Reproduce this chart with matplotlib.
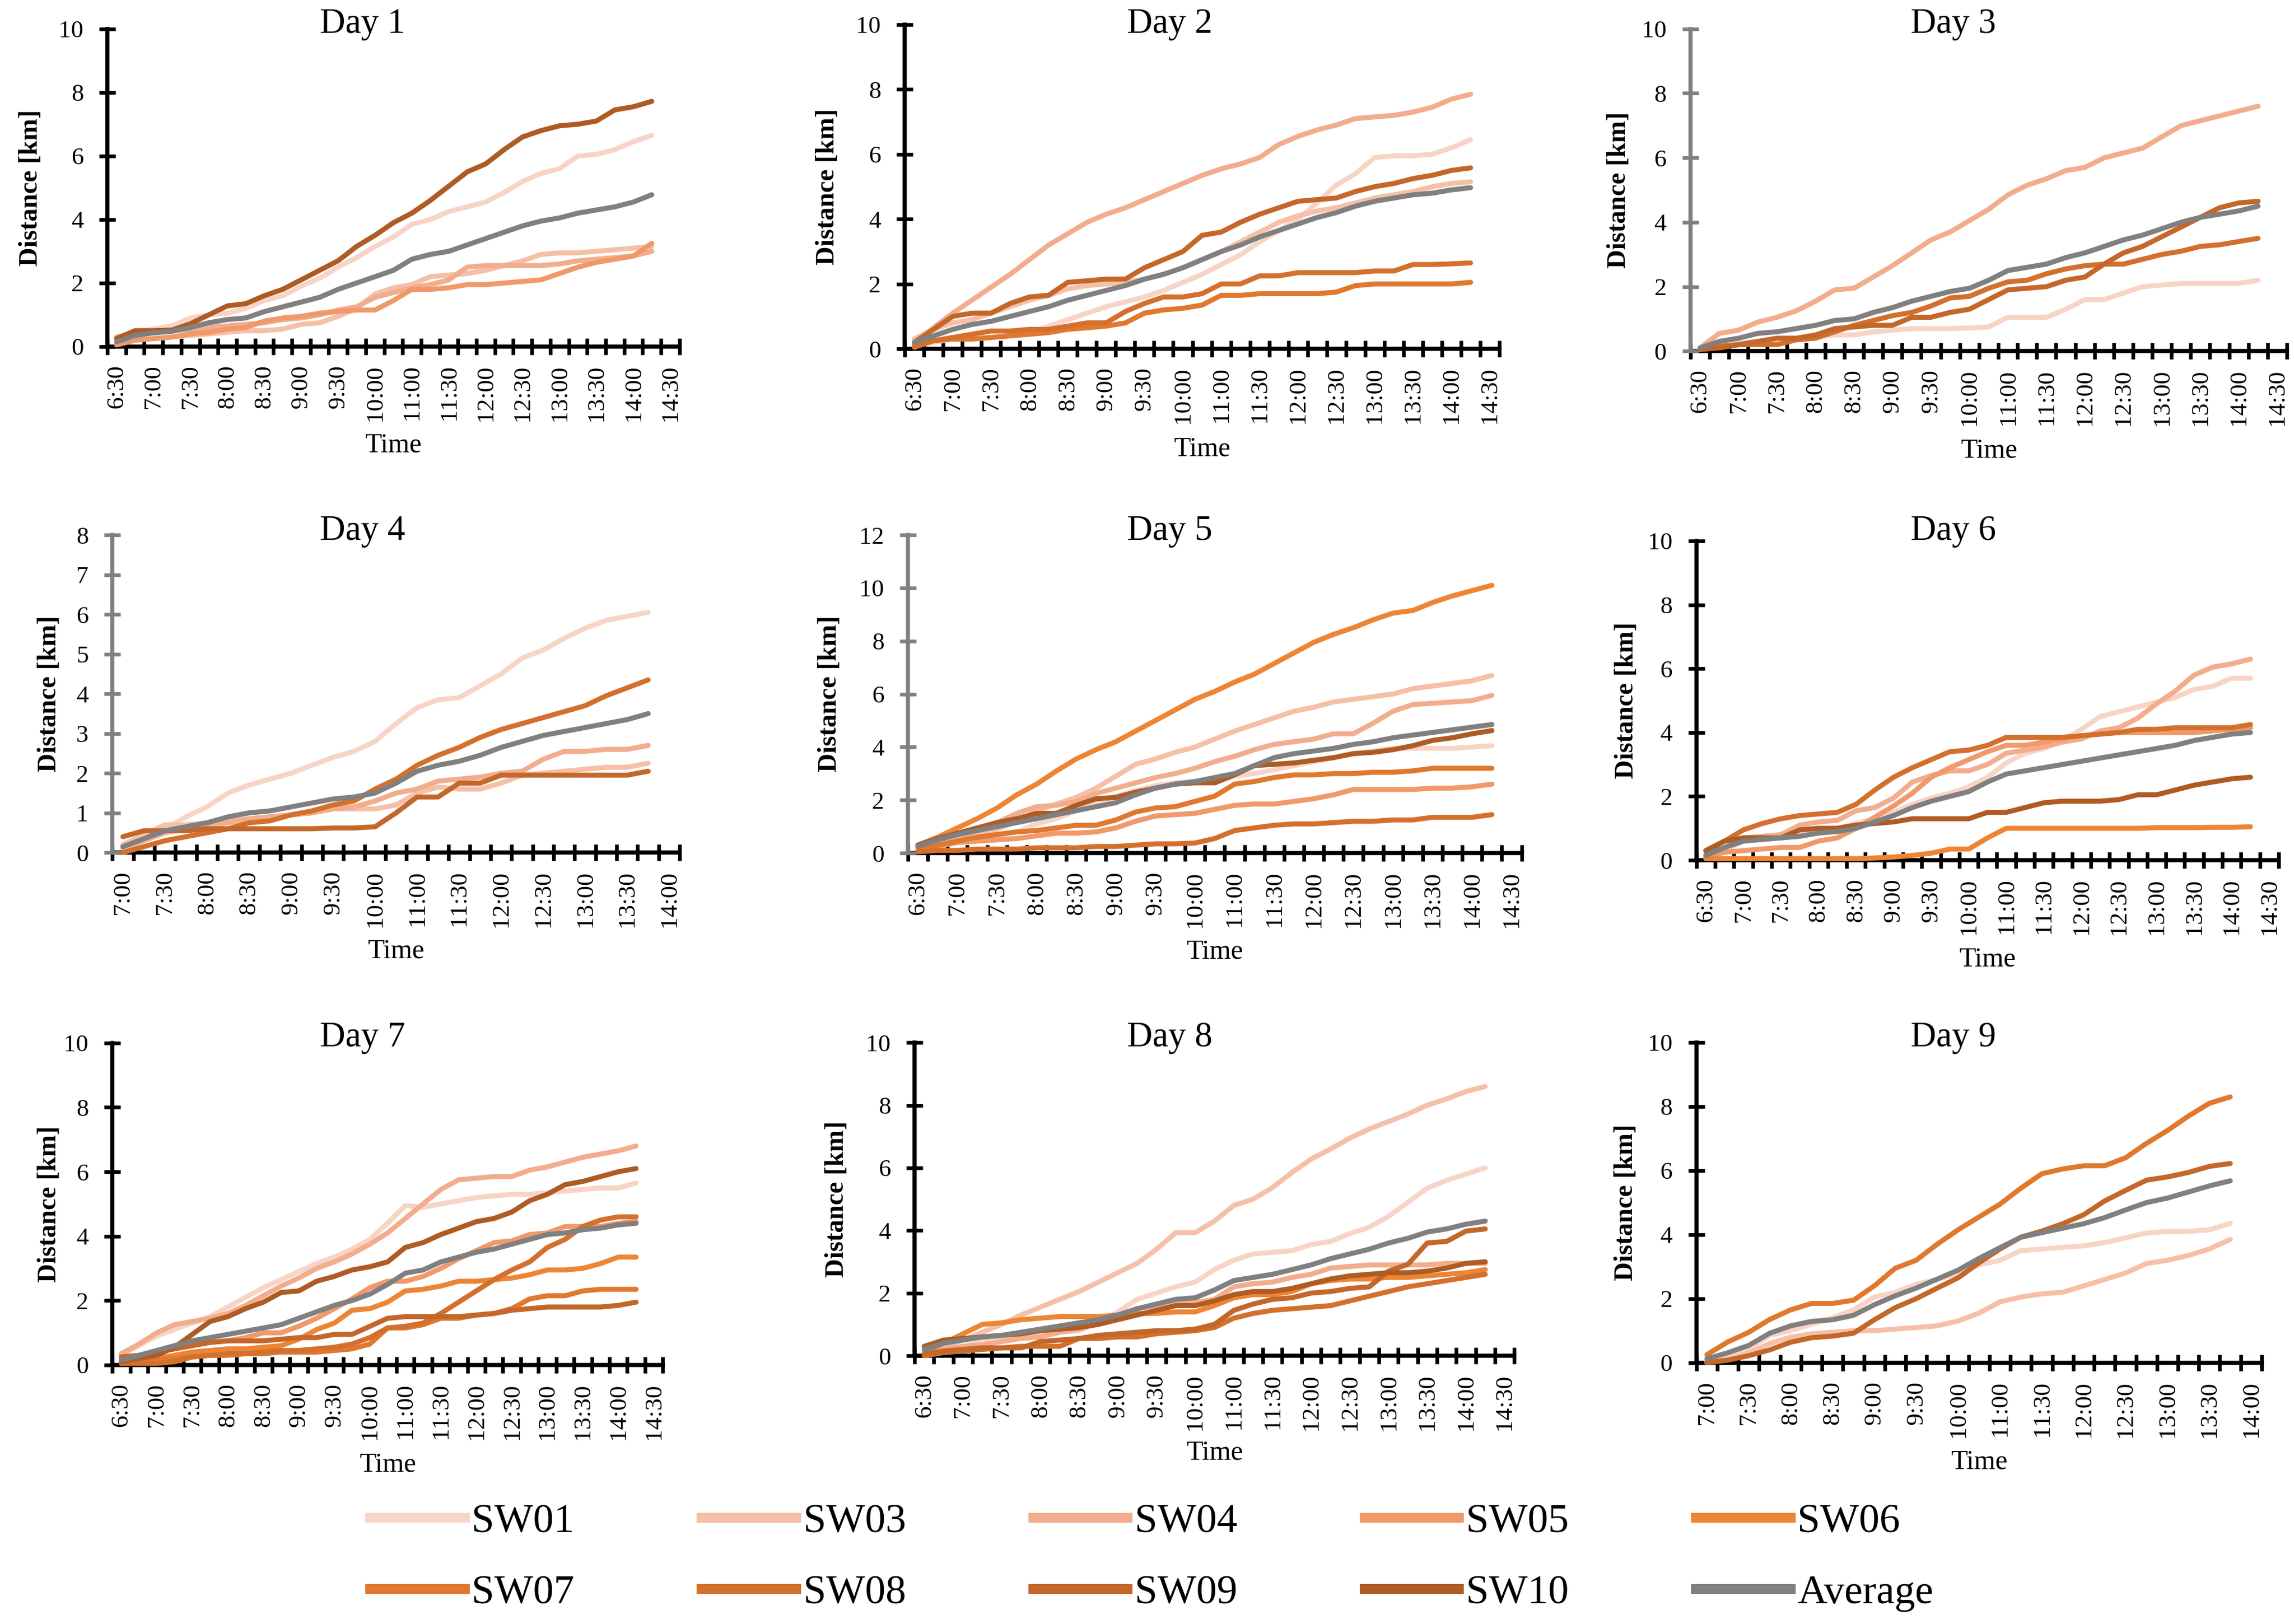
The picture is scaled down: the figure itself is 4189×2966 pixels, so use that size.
import numpy as np
import matplotlib
matplotlib.use('Agg')
import matplotlib.pyplot as plt
from matplotlib.lines import Line2D

plt.rcParams['font.family'] = ['Liberation Serif', 'DejaVu Serif']

# series and colours
series_names = ['SW01', 'SW03', 'SW04', 'SW05', 'SW06', 'SW07', 'SW08', 'SW09', 'SW10', 'Average']
series_colors = {
    'SW01': '#F8D4C6', 'SW03': '#F5C0A7', 'SW04': '#F2AD8D', 'SW05': '#F0996A',
    'SW06': '#EE8534', 'SW07': '#E0782E', 'SW08': '#D4702D', 'SW09': '#C4672A',
    'SW10': '#AE5C24', 'Average': '#808080',
}

# x tick labels (every second 15-min category is labelled)
labels_630 = ['6:30', '7:00', '7:30', '8:00', '8:30', '9:00', '9:30', '10:00', '11:00',
              '11:30', '12:00', '12:30', '13:00', '13:30', '14:00', '14:30']
labels_700 = ['7:00', '7:30', '8:00', '8:30', '9:00', '9:30', '10:00', '11:00',
              '11:30', '12:00', '12:30', '13:00', '13:30', '14:00']

# cumulative distance [km] per day
day1 = {
    'SW01': [0.3, 0.45, 0.55, 0.65, 0.9, 1.0, 1.05, 1.2, 1.45, 1.6, 1.9, 2.15, 2.5, 2.8, 3.15, 3.45, 3.85, 4.0, 4.25, 4.4, 4.55, 4.85, 5.2, 5.45, 5.6, 6.0, 6.05, 6.2, 6.45, 6.65],
    'SW03': [0.1, 0.2, 0.25, 0.3, 0.35, 0.4, 0.45, 0.5, 0.5, 0.55, 0.7, 0.75, 0.95, 1.2, 1.65, 1.85, 1.95, 2.2, 2.25, 2.3, 2.4, 2.55, 2.7, 2.9, 2.95, 2.95, 3.0, 3.05, 3.1, 3.15],
    'SW04': [0.3, 0.4, 0.45, 0.5, 0.55, 0.6, 0.65, 0.7, 0.75, 0.85, 0.9, 1.0, 1.15, 1.25, 1.55, 1.7, 1.85, 1.95, 2.1, 2.5, 2.55, 2.55, 2.55, 2.55, 2.6, 2.7, 2.75, 2.8, 2.85, 3.0],
    'SW05': [0.05, 0.2, 0.25, 0.3, 0.4, 0.45, 0.55, 0.6, 0.8, 0.9, 0.95, 1.05, 1.1, 1.15, 1.15, 1.45, 1.8, 1.8, 1.85, 1.95, 1.95, 2.0, 2.05, 2.1, 2.3, 2.5, 2.65, 2.75, 2.85, 3.25],
    'SW10': [0.25, 0.5, 0.5, 0.52, 0.72, 1.0, 1.28, 1.35, 1.6, 1.8, 2.1, 2.4, 2.7, 3.15, 3.5, 3.9, 4.2, 4.6, 5.05, 5.5, 5.75, 6.2, 6.6, 6.8, 6.95, 7.0, 7.1, 7.45, 7.55, 7.72],
    'Average': [0.15, 0.35, 0.43, 0.48, 0.6, 0.75, 0.85, 0.9, 1.1, 1.25, 1.4, 1.55, 1.8, 2.0, 2.2, 2.4, 2.75, 2.9, 3.0, 3.2, 3.4, 3.6, 3.8, 3.95, 4.05, 4.2, 4.3, 4.4, 4.55, 4.78],
}
day2 = {
    'SW01': [0.1, 0.2, 0.3, 0.35, 0.35, 0.4, 0.5, 0.7, 0.9, 1.1, 1.3, 1.45, 1.6, 1.8, 2.05, 2.3, 2.6, 2.9, 3.3, 3.65, 4.0, 4.5, 5.05, 5.4, 5.9, 5.95, 5.95, 6.0, 6.2, 6.45],
    'SW03': [0.3, 0.6, 0.8, 0.9, 1.1, 1.3, 1.5, 1.65, 1.85, 1.95, 2.0, 2.05, 2.15, 2.3, 2.5, 2.75, 3.0, 3.3, 3.6, 3.9, 4.1, 4.25, 4.35, 4.5, 4.65, 4.75, 4.85, 5.0, 5.1, 5.15],
    'SW04': [0.2, 0.65, 1.1, 1.5, 1.9, 2.3, 2.75, 3.2, 3.55, 3.9, 4.15, 4.35, 4.6, 4.85, 5.1, 5.35, 5.55, 5.7, 5.9, 6.3, 6.55, 6.75, 6.9, 7.1, 7.15, 7.2, 7.3, 7.45, 7.7, 7.85],
    'SW07': [0.05, 0.25, 0.3, 0.3, 0.35, 0.4, 0.45, 0.5, 0.6, 0.65, 0.7, 0.8, 1.1, 1.2, 1.25, 1.35, 1.65, 1.65, 1.7, 1.7, 1.7, 1.7, 1.75, 1.95, 2.0, 2.0, 2.0, 2.0, 2.0, 2.05],
    'SW08': [0.1, 0.25, 0.35, 0.45, 0.55, 0.55, 0.6, 0.6, 0.7, 0.8, 0.8, 1.15, 1.4, 1.6, 1.6, 1.7, 2.0, 2.0, 2.25, 2.25, 2.35, 2.35, 2.35, 2.35, 2.4, 2.4, 2.6, 2.6, 2.62, 2.65],
    'SW09': [0.2, 0.6, 1.0, 1.1, 1.1, 1.4, 1.6, 1.65, 2.05, 2.1, 2.15, 2.15, 2.5, 2.75, 3.0, 3.5, 3.6, 3.9, 4.15, 4.35, 4.55, 4.6, 4.65, 4.85, 5.0, 5.1, 5.25, 5.35, 5.5, 5.58],
    'Average': [0.2, 0.4, 0.6, 0.75, 0.85, 1.0, 1.15, 1.3, 1.5, 1.65, 1.8, 1.95, 2.15, 2.3, 2.5, 2.75, 3.0, 3.2, 3.45, 3.65, 3.85, 4.05, 4.2, 4.4, 4.55, 4.65, 4.75, 4.8, 4.9, 4.97],
}
day3 = {
    'SW01': [0.05, 0.2, 0.25, 0.3, 0.35, 0.4, 0.45, 0.5, 0.5, 0.6, 0.65, 0.7, 0.7, 0.7, 0.72, 0.75, 1.05, 1.05, 1.05, 1.3, 1.6, 1.6, 1.8, 2.0, 2.05, 2.1, 2.1, 2.1, 2.1, 2.2],
    'SW04': [0.1, 0.55, 0.65, 0.9, 1.05, 1.25, 1.55, 1.9, 1.95, 2.3, 2.65, 3.05, 3.45, 3.7, 4.05, 4.4, 4.85, 5.15, 5.35, 5.6, 5.7, 6.0, 6.15, 6.3, 6.65, 7.0, 7.15, 7.3, 7.45, 7.6],
    'SW08': [0.05, 0.15, 0.2, 0.2, 0.2, 0.35, 0.4, 0.6, 0.8, 0.95, 1.1, 1.2, 1.4, 1.65, 1.7, 1.95, 2.15, 2.2, 2.4, 2.55, 2.65, 2.7, 2.7, 2.85, 3.0, 3.1, 3.25, 3.3, 3.4, 3.5],
    'SW09': [0.05, 0.1, 0.2, 0.3, 0.4, 0.4, 0.5, 0.7, 0.75, 0.8, 0.8, 1.05, 1.05, 1.2, 1.3, 1.6, 1.9, 1.95, 2.0, 2.2, 2.3, 2.7, 3.05, 3.25, 3.55, 3.85, 4.15, 4.45, 4.6, 4.65],
    'Average': [0.1, 0.3, 0.4, 0.55, 0.6, 0.7, 0.8, 0.95, 1.0, 1.2, 1.35, 1.55, 1.7, 1.85, 1.95, 2.2, 2.5, 2.6, 2.7, 2.9, 3.05, 3.25, 3.45, 3.6, 3.8, 4.0, 4.15, 4.25, 4.35, 4.5],
}
day4 = {
    'SW01': [0.2, 0.4, 0.6, 0.9, 1.15, 1.5, 1.7, 1.85, 2.0, 2.2, 2.4, 2.55, 2.8, 3.25, 3.65, 3.85, 3.9, 4.2, 4.5, 4.9, 5.1, 5.4, 5.65, 5.85, 5.95, 6.05],
    'SW03': [0.2, 0.45, 0.7, 0.7, 0.75, 0.8, 0.85, 0.9, 0.95, 1.0, 1.1, 1.1, 1.1, 1.2, 1.5, 1.65, 1.6, 1.6, 1.75, 1.95, 2.0, 2.05, 2.1, 2.15, 2.15, 2.25],
    'SW04': [0.1, 0.3, 0.5, 0.6, 0.65, 0.75, 0.85, 0.9, 0.95, 1.0, 1.1, 1.15, 1.3, 1.5, 1.6, 1.8, 1.85, 1.9, 2.0, 2.05, 2.35, 2.55, 2.55, 2.6, 2.6, 2.7],
    'SW08': [0.0, 0.15, 0.3, 0.4, 0.5, 0.6, 0.75, 0.8, 0.95, 1.05, 1.2, 1.3, 1.6, 1.85, 2.2, 2.45, 2.65, 2.9, 3.1, 3.25, 3.4, 3.55, 3.7, 3.95, 4.15, 4.35],
    'SW09': [0.4, 0.55, 0.55, 0.55, 0.6, 0.6, 0.6, 0.6, 0.6, 0.6, 0.62, 0.62, 0.65, 1.0, 1.4, 1.4, 1.75, 1.75, 1.95, 1.95, 1.95, 1.95, 1.95, 1.95, 1.95, 2.05],
    'Average': [0.15, 0.35, 0.55, 0.65, 0.75, 0.9, 1.0, 1.05, 1.15, 1.25, 1.35, 1.4, 1.5, 1.75, 2.05, 2.2, 2.3, 2.45, 2.65, 2.8, 2.95, 3.05, 3.15, 3.25, 3.35, 3.5],
}
day5 = {
    'SW01': [0.2, 0.3, 0.4, 0.5, 0.65, 0.8, 1.1, 1.3, 1.6, 1.85, 2.15, 2.35, 2.55, 2.65, 2.7, 2.75, 2.9, 3.0, 3.15, 3.3, 3.45, 3.6, 3.75, 3.85, 3.95, 3.95, 3.95, 3.95, 4.0, 4.05],
    'SW03': [0.25, 0.45, 0.55, 0.7, 0.9, 1.2, 1.6, 1.85, 2.1, 2.45, 2.9, 3.35, 3.55, 3.8, 4.0, 4.3, 4.6, 4.85, 5.1, 5.35, 5.5, 5.7, 5.8, 5.9, 6.0, 6.2, 6.3, 6.4, 6.5, 6.7],
    'SW04': [0.2, 0.4, 0.6, 0.85, 1.15, 1.5, 1.75, 1.8, 1.95, 2.25, 2.45, 2.65, 2.85, 3.0, 3.2, 3.45, 3.65, 3.9, 4.1, 4.2, 4.3, 4.5, 4.5, 4.9, 5.35, 5.6, 5.65, 5.7, 5.75, 5.95],
    'SW05': [0.1, 0.25, 0.4, 0.45, 0.5, 0.55, 0.65, 0.75, 0.75, 0.8, 0.95, 1.2, 1.4, 1.45, 1.5, 1.65, 1.8, 1.85, 1.85, 1.95, 2.05, 2.2, 2.4, 2.4, 2.4, 2.4, 2.45, 2.45, 2.5, 2.6],
    'SW06': [0.3, 0.6, 0.95, 1.3, 1.7, 2.2, 2.6, 3.1, 3.55, 3.9, 4.2, 4.6, 5.0, 5.4, 5.8, 6.1, 6.45, 6.75, 7.15, 7.55, 7.95, 8.25, 8.5, 8.8, 9.05, 9.15, 9.45, 9.7, 9.9, 10.1],
    'SW07': [0.1, 0.3, 0.45, 0.6, 0.7, 0.8, 0.85, 0.95, 1.05, 1.05, 1.25, 1.55, 1.7, 1.75, 1.95, 2.15, 2.6, 2.7, 2.85, 2.95, 2.95, 3.0, 3.0, 3.05, 3.05, 3.1, 3.2, 3.2, 3.2, 3.2],
    'SW08': [0.05, 0.1, 0.1, 0.15, 0.15, 0.15, 0.2, 0.2, 0.2, 0.25, 0.25, 0.3, 0.35, 0.35, 0.38, 0.55, 0.85, 0.95, 1.05, 1.1, 1.1, 1.15, 1.2, 1.2, 1.25, 1.25, 1.35, 1.35, 1.35, 1.45],
    'SW10': [0.3, 0.55, 0.75, 0.95, 1.15, 1.3, 1.5, 1.5, 1.8, 2.05, 2.1, 2.3, 2.45, 2.6, 2.65, 2.65, 2.95, 3.3, 3.35, 3.4, 3.5, 3.6, 3.75, 3.8, 3.9, 4.05, 4.25, 4.35, 4.5, 4.62],
    'Average': [0.25, 0.5, 0.7, 0.85, 1.0, 1.15, 1.3, 1.45, 1.6, 1.75, 1.9, 2.2, 2.45, 2.6, 2.7, 2.85, 3.0, 3.3, 3.6, 3.75, 3.85, 3.95, 4.1, 4.2, 4.35, 4.45, 4.55, 4.65, 4.75, 4.85],
}
day6 = {
    'SW01': [0.1, 0.3, 0.6, 0.7, 0.7, 0.8, 0.9, 1.0, 1.15, 1.3, 1.5, 1.75, 1.95, 2.1, 2.3, 2.6, 3.05, 3.35, 3.5, 3.75, 4.1, 4.5, 4.65, 4.8, 4.95, 5.1, 5.35, 5.45, 5.7, 5.7],
    'SW04': [0.2, 0.4, 0.7, 0.75, 0.8, 1.1, 1.2, 1.25, 1.55, 1.65, 1.95, 2.45, 2.65, 2.8, 2.8, 3.0, 3.35, 3.45, 3.55, 3.7, 3.8, 4.05, 4.15, 4.45, 4.9, 5.3, 5.8, 6.05, 6.15, 6.3],
    'SW05': [0.1, 0.25, 0.3, 0.35, 0.4, 0.4, 0.6, 0.7, 1.0, 1.35, 1.7, 2.1, 2.6, 2.9, 3.15, 3.4, 3.6, 3.6, 3.7, 3.8, 3.9, 3.95, 4.0, 4.0, 4.0, 4.0, 4.0, 4.05, 4.1, 4.15],
    'SW06': [0.05, 0.05, 0.05, 0.05, 0.05, 0.05, 0.05, 0.05, 0.05, 0.07, 0.1, 0.15, 0.22, 0.35, 0.35, 0.7, 1.0, 1.0, 1.0, 1.0, 1.0, 1.0, 1.0, 1.0, 1.02, 1.02, 1.02, 1.03, 1.03, 1.05],
    'SW08': [0.3, 0.6, 0.95, 1.15, 1.3, 1.4, 1.45, 1.5, 1.75, 2.2, 2.6, 2.9, 3.15, 3.4, 3.45, 3.6, 3.85, 3.85, 3.85, 3.85, 3.9, 3.95, 4.0, 4.1, 4.1, 4.15, 4.15, 4.15, 4.15, 4.25],
    'SW10': [0.3, 0.6, 0.7, 0.7, 0.7, 0.95, 1.0, 1.0, 1.1, 1.15, 1.2, 1.3, 1.3, 1.3, 1.3, 1.5, 1.5, 1.65, 1.8, 1.85, 1.85, 1.85, 1.9, 2.05, 2.05, 2.2, 2.35, 2.45, 2.55, 2.6],
    'Average': [0.15, 0.4, 0.6, 0.65, 0.7, 0.75, 0.85, 0.9, 1.0, 1.2, 1.4, 1.65, 1.85, 2.0, 2.15, 2.45, 2.7, 2.8, 2.9, 3.0, 3.1, 3.2, 3.3, 3.4, 3.5, 3.6, 3.75, 3.85, 3.95, 4.0],
}
day7 = {
    'SW01': [0.3, 0.6, 0.9, 1.1, 1.3, 1.5, 1.8, 2.1, 2.4, 2.65, 2.9, 3.15, 3.35, 3.6, 3.9, 4.4, 4.95, 4.9, 5.0, 5.1, 5.2, 5.25, 5.3, 5.3, 5.35, 5.4, 5.45, 5.5, 5.5, 5.65],
    'SW04': [0.35, 0.65, 1.0, 1.25, 1.35, 1.45, 1.6, 1.85, 2.15, 2.45, 2.7, 3.0, 3.2, 3.45, 3.75, 4.1, 4.55, 5.0, 5.45, 5.75, 5.8, 5.85, 5.85, 6.05, 6.15, 6.3, 6.45, 6.55, 6.65, 6.8],
    'SW05': [0.15, 0.3, 0.4, 0.5, 0.6, 0.7, 0.75, 0.85, 1.0, 1.0, 1.2, 1.45, 1.75, 2.05, 2.4, 2.6, 2.6, 2.75, 3.0, 3.3, 3.55, 3.8, 3.85, 4.05, 4.1, 4.3, 4.3, 4.3, 4.4, 4.45],
    'SW06': [0.05, 0.15, 0.2, 0.3, 0.4, 0.45, 0.5, 0.5, 0.55, 0.6, 0.8, 1.1, 1.3, 1.7, 1.75, 1.95, 2.3, 2.35, 2.45, 2.6, 2.6, 2.65, 2.7, 2.8, 2.95, 2.95, 3.0, 3.15, 3.35, 3.35],
    'SW07': [0.05, 0.1, 0.15, 0.2, 0.25, 0.3, 0.3, 0.35, 0.35, 0.4, 0.4, 0.4, 0.45, 0.5, 0.65, 1.15, 1.15, 1.25, 1.45, 1.45, 1.55, 1.6, 1.75, 2.05, 2.15, 2.15, 2.3, 2.35, 2.35, 2.35],
    'SW08': [0.05, 0.05, 0.05, 0.1, 0.25, 0.3, 0.35, 0.35, 0.4, 0.45, 0.45, 0.5, 0.55, 0.65, 0.85, 1.15, 1.2, 1.3, 1.6, 1.95, 2.3, 2.65, 2.95, 3.2, 3.65, 3.9, 4.3, 4.5, 4.6, 4.6],
    'SW09': [0.25, 0.3, 0.4, 0.5, 0.6, 0.7, 0.75, 0.75, 0.75, 0.8, 0.85, 0.85, 0.95, 0.95, 1.2, 1.45, 1.5, 1.5, 1.5, 1.5, 1.55, 1.6, 1.7, 1.75, 1.8, 1.8, 1.8, 1.8, 1.85, 1.95],
    'SW10': [0.1, 0.2, 0.3, 0.55, 0.95, 1.35, 1.5, 1.75, 1.95, 2.25, 2.3, 2.6, 2.75, 2.95, 3.05, 3.2, 3.65, 3.8, 4.05, 4.25, 4.45, 4.55, 4.75, 5.1, 5.3, 5.6, 5.7, 5.85, 6.0, 6.1],
    'Average': [0.15, 0.3, 0.45, 0.6, 0.75, 0.85, 0.95, 1.05, 1.15, 1.25, 1.45, 1.65, 1.85, 2.0, 2.2, 2.5, 2.85, 2.95, 3.2, 3.35, 3.5, 3.6, 3.75, 3.9, 4.05, 4.1, 4.2, 4.25, 4.35, 4.4],
}
day8 = {
    'SW01': [0.1, 0.2, 0.3, 0.45, 0.55, 0.65, 0.7, 0.75, 0.8, 1.05, 1.4, 1.8, 2.0, 2.2, 2.35, 2.75, 3.05, 3.25, 3.3, 3.35, 3.55, 3.65, 3.9, 4.1, 4.45, 4.9, 5.35, 5.6, 5.8, 6.0],
    'SW03': [0.15, 0.3, 0.5, 0.75, 1.0, 1.3, 1.55, 1.8, 2.05, 2.35, 2.65, 2.95, 3.4, 3.93, 3.93, 4.3, 4.8, 5.0, 5.37, 5.85, 6.28, 6.6, 6.95, 7.24, 7.48, 7.72, 8.0, 8.2, 8.44, 8.6],
    'SW04': [0.05, 0.2, 0.3, 0.35, 0.45, 0.55, 0.6, 0.75, 0.85, 1.05, 1.3, 1.5, 1.6, 1.65, 1.7, 1.8, 2.2, 2.3, 2.35, 2.5, 2.6, 2.8, 2.85, 2.9, 2.9, 2.9, 2.9, 2.95, 2.95, 2.95],
    'SW06': [0.1, 0.4, 0.7, 1.0, 1.05, 1.15, 1.2, 1.25, 1.25, 1.25, 1.3, 1.35, 1.35, 1.4, 1.4, 1.6, 1.85, 1.95, 1.95, 2.05, 2.3, 2.4, 2.45, 2.45, 2.5, 2.5, 2.55, 2.6, 2.65, 2.75],
    'SW08': [0.0, 0.1, 0.15, 0.2, 0.25, 0.3, 0.3, 0.3, 0.55, 0.55, 0.6, 0.6, 0.7, 0.75, 0.8, 0.9, 1.2, 1.35, 1.45, 1.5, 1.55, 1.6, 1.75, 1.9, 2.05, 2.2, 2.3, 2.4, 2.5, 2.6],
    'SW09': [0.05, 0.15, 0.2, 0.25, 0.25, 0.25, 0.45, 0.5, 0.55, 0.65, 0.7, 0.75, 0.8, 0.8, 0.85, 1.0, 1.45, 1.65, 1.8, 1.85, 2.0, 2.05, 2.15, 2.2, 2.7, 2.92, 3.6, 3.65, 3.98, 4.05],
    'SW10': [0.3, 0.5, 0.55, 0.6, 0.65, 0.7, 0.8, 0.85, 0.9, 1.0, 1.15, 1.3, 1.45, 1.6, 1.6, 1.75, 1.95, 2.05, 2.05, 2.15, 2.3, 2.45, 2.55, 2.6, 2.65, 2.65, 2.7, 2.8, 2.95, 3.0],
    'Average': [0.2, 0.4, 0.5, 0.6, 0.65, 0.75, 0.85, 0.95, 1.05, 1.15, 1.3, 1.5, 1.65, 1.8, 1.85, 2.1, 2.4, 2.5, 2.6, 2.75, 2.9, 3.1, 3.25, 3.4, 3.6, 3.75, 3.95, 4.05, 4.2, 4.3],
}
day9 = {
    'SW01': [0.05, 0.2, 0.45, 0.85, 1.0, 1.2, 1.4, 1.65, 2.05, 2.2, 2.45, 2.6, 2.8, 3.05, 3.2, 3.5, 3.55, 3.6, 3.65, 3.75, 3.9, 4.05, 4.1, 4.1, 4.15, 4.35],
    'SW03': [0.0, 0.1, 0.3, 0.6, 0.8, 0.9, 0.95, 1.0, 1.0, 1.05, 1.1, 1.15, 1.3, 1.55, 1.9, 2.05, 2.15, 2.2, 2.4, 2.6, 2.8, 3.1, 3.2, 3.35, 3.55, 3.85],
    'SW07': [0.25, 0.65, 0.95, 1.35, 1.65, 1.85, 1.85, 1.95, 2.4, 2.95, 3.2, 3.7, 4.15, 4.55, 4.95, 5.45, 5.9, 6.05, 6.15, 6.15, 6.4, 6.85, 7.25, 7.7, 8.1, 8.3],
    'SW09': [0.0, 0.08, 0.22, 0.4, 0.64, 0.78, 0.83, 0.92, 1.34, 1.72, 2.0, 2.33, 2.65, 3.12, 3.55, 3.92, 4.11, 4.34, 4.62, 5.05, 5.38, 5.7, 5.8, 5.94, 6.13, 6.22],
    'Average': [0.12, 0.31, 0.54, 0.92, 1.15, 1.29, 1.34, 1.48, 1.81, 2.09, 2.33, 2.61, 2.89, 3.26, 3.59, 3.92, 4.06, 4.2, 4.34, 4.53, 4.77, 5.0, 5.14, 5.33, 5.52, 5.68],
}

days = [day1, day2, day3, day4, day5, day6, day7, day8, day9]
day_labels = [labels_630, labels_630, labels_630, labels_700, labels_630,
              labels_630, labels_630, labels_630, labels_700]
day_ymax = [10, 10, 10, 8, 12, 10, 10, 10, 10]
day_ystep = [2, 2, 2, 1, 2, 2, 2, 2, 2]
day_yaxis_gray = [False, False, True, True, True, False, False, False, False]

# layout (figure fractions)
axes_rects = [
    [0.0468, 0.7866, 0.2494, 0.1956], [0.3944, 0.7852, 0.2592, 0.1997], [0.7369, 0.7838, 0.2600, 0.1984],
    [0.0490, 0.4750, 0.2473, 0.1956], [0.3958, 0.4747, 0.2675, 0.1959], [0.7395, 0.4703, 0.2538, 0.1966],
    [0.0490, 0.1595, 0.2399, 0.1983], [0.3987, 0.1652, 0.2614, 0.1928], [0.7395, 0.1609, 0.2464, 0.1972],
]
title_x = [0.158, 0.510, 0.8515]
title_y = [0.9798, 0.6675, 0.3557]
ylabel_x = [-0.135, -0.13, -0.121, -0.112, -0.128, -0.121, -0.115, -0.13, -0.125]

fig = plt.figure(figsize=(4189 / 300, 2966 / 300), dpi=300)

for k, day in enumerate(days):
    ax = fig.add_axes(axes_rects[k])
    labels = day_labels[k]
    n_cat = 2 * len(labels) - 1

    for name in series_names:
        if name in day:
            vals = day[name]
            ax.plot(np.arange(len(vals)), vals, color=series_colors[name], lw=2.2,
                    solid_capstyle='round', solid_joinstyle='round', clip_on=False)

    ax.set_xlim(-0.5, n_cat - 0.5)
    ax.set_ylim(0, day_ymax[k])
    ycol = '#808080' if day_yaxis_gray[k] else 'black'

    for s in ['top', 'right']:
        ax.spines[s].set_visible(False)
    ax.spines['left'].set_color(ycol)
    ax.spines['left'].set_linewidth(1.8)
    ax.spines['bottom'].set_linewidth(1.8)
    ax.spines['bottom'].set_zorder(1)

    ax.set_yticks(np.arange(0, day_ymax[k] + 0.01, day_ystep[k]))
    ax.tick_params(axis='y', direction='inout', length=7, width=1.6, color=ycol,
                   labelsize=10.8, pad=7)
    ax.set_xticks(np.arange(0, n_cat, 2))
    ax.set_xticklabels(labels, rotation=90)
    ax.tick_params(axis='x', which='major', length=0, labelsize=10.8, pad=8)
    ax.set_xticks(np.arange(-0.5, n_cat, 1), minor=True)
    ax.tick_params(axis='x', which='minor', direction='inout', length=7, width=1.6, color='black')

    ax.set_ylabel('Distance [km]', fontsize=11.5, fontweight='bold', va='center')
    ax.yaxis.set_label_coords(ylabel_x[k], 0.5)
    ax.set_xlabel('Time', fontsize=12, va='center')
    ax.xaxis.set_label_coords(0.5, -0.31)

    fig.text(title_x[k % 3], title_y[k // 3], 'Day %d' % (k + 1), fontsize=15.5,
             ha='center', va='baseline')

# legend: two rows of five, matplotlib fills columns first
legend_order = ['SW01', 'SW07', 'SW03', 'SW08', 'SW04', 'SW09', 'SW05', 'SW10', 'SW06', 'Average']
handles = [Line2D([0], [0], color=series_colors[n], lw=4.3) for n in legend_order]
fig.legend(handles, legend_order, ncol=5, loc='center left', bbox_to_anchor=(0.1614, 0.0408),
           frameon=False, fontsize=18, handlelength=2.3, handletextpad=0.17,
           columnspacing=3.1, labelspacing=0.82, borderpad=0, borderaxespad=0)

fig.savefig('out.png', dpi=300)
